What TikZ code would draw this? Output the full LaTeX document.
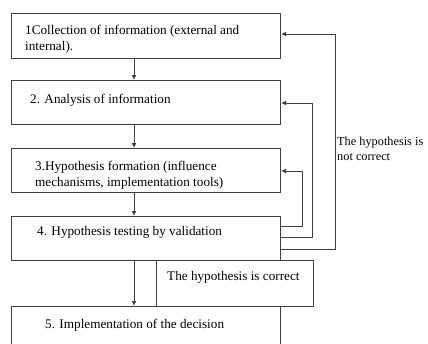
\documentclass[tikz,border=0pt]{standalone}
\usepackage{fontspec}
\setmainfont{Liberation Serif}
\usetikzlibrary{arrows.meta}
\begin{document}
\begin{tikzpicture}[x=1pt,y=-1pt,
 box/.style={draw=black!75,line width=1.1pt,rectangle,inner sep=0pt,anchor=north west},
 txt/.style={anchor=west,inner sep=0pt,align=left,font=\fontsize{13.2}{16}\selectfont},
 arr/.style={draw=black!75,line width=0.9pt,-{Latex[length=5pt,width=5pt]}}]
\useasboundingbox (0,0) rectangle (428,343);
\clip (0,0) rectangle (428,343);
\node[box,minimum width=269pt,minimum height=45pt] (b1) at (11,13) {};
\node[box,minimum width=269pt,minimum height=44pt] (b2) at (11,80) {};
\node[box,minimum width=269pt,minimum height=44pt] (b3) at (11,148) {};
\node[box,minimum width=269pt,minimum height=44pt] (b4) at (11,216) {};
\node[box,minimum width=157pt,minimum height=46pt] (bc) at (156,260) {};
\node[box,minimum width=269pt,minimum height=60pt] (b5) at (11,306) {};
\node[txt] (t1) at (25,39.5) {1Collection of information (external and\\internal).};
\node[txt] (t2) at (30,100) {2. Analysis of information};
\node[txt] (t3) at (35,175) {3.Hypothesis formation (influence\\mechanisms, implementation tools)};
\node[txt] (t4) at (37,232) {4. Hypothesis testing by validation};
\node[txt] (tc) at (167,277) {The hypothesis is correct};
\node[txt] (t5) at (45,325) {5. Implementation of the decision};
\node[txt,font=\fontsize{12.3}{15.5}\selectfont] (tn) at (337,149) {The hypothesis is\\not correct};
\coordinate (ax) at (134,0);
\draw[arr] (b1.south -| ax) -- (b2.north -| ax);
\draw[arr] (b2.south -| ax) -- (b3.north -| ax);
\draw[arr] (b3.south -| ax) -- (b4.north -| ax);
\draw[arr] (b4.south -| ax) -- (b5.north -| ax);
\coordinate (k3a) at (302,226); \coordinate (k3b) at (302,171);
\coordinate (k2a) at (312,237); \coordinate (k2b) at (312,103);
\coordinate (k1a) at (335,249); \coordinate (k1b) at (335,34);
\draw[arr] (b4.east |- k3a) -- (k3a) -- (k3b) -- (b3.east |- k3b);
\draw[arr] (b4.east |- k2a) -- (k2a) -- (k2b) -- (b2.east |- k2b);
\draw[arr] (b4.east |- k1a) -- (k1a) -- (k1b) -- (b1.east |- k1b);
\end{tikzpicture}
\end{document}
